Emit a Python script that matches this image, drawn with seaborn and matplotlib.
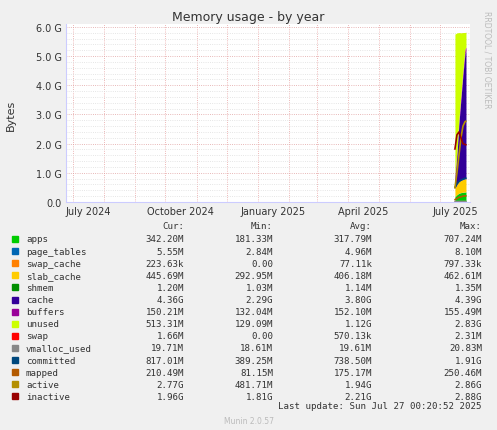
import matplotlib
matplotlib.use("Agg")
import matplotlib.pyplot as plt
import matplotlib.dates as mdates
import seaborn as sns
import pandas as pd
import numpy as np

sns.set_style("white")
plt.rcParams['font.family'] = ['DejaVu Sans']

dates = pd.to_datetime(["2025-07-16", "2025-07-18", "2025-07-20", "2025-07-22", "2025-07-24", "2025-07-26", "2025-07-27"])
G = 1e9
apps = [0.18, 0.25, 0.30, 0.32, 0.33, 0.34, 0.342]
page_tables = [0.003, 0.004, 0.005, 0.005, 0.005, 0.0055, 0.0055]
swap_cache = [0, 0, 0, 0.0001, 0.0002, 0.0002, 0.0002]
slab_cache = [0.29, 0.35, 0.40, 0.42, 0.44, 0.45, 0.446]
shmem = [0.001, 0.001, 0.001, 0.0012, 0.0012, 0.0012, 0.0012]
cache = [0.3, 1.0, 2.0, 2.8, 3.6, 4.3, 4.36]
buffers = [0.13, 0.14, 0.15, 0.15, 0.15, 0.15, 0.15]
unused = [4.85, 4.05, 2.95, 2.1, 1.28, 0.56, 0.513]
swap = [0, 0, 0.0005, 0.001, 0.0015, 0.0016, 0.0017]
vmalloc_used = [0.019, 0.019, 0.0195, 0.0196, 0.0197, 0.0197, 0.0197]
committed = [0.5, 0.62, 0.70, 0.75, 0.78, 0.81, 0.817]
mapped = [0.08, 0.12, 0.16, 0.18, 0.20, 0.21, 0.21]
active = [0.48, 1.0, 1.6, 2.2, 2.6, 2.75, 2.77]
inactive = [1.81, 2.3, 2.4, 2.2, 2.0, 1.97, 1.96]

stack_names = ["apps", "page_tables", "swap_cache", "slab_cache", "shmem", "cache", "buffers", "unused", "swap"]
stack_vals = [apps, page_tables, swap_cache, slab_cache, shmem, cache, buffers, unused, swap]
stack_cols = ["#00CC00", "#0066B3", "#FF8000", "#FFCC00", "#330099", "#330099", "#990099", "#CCFF00", "#FF0000"]
line_names = ["vmalloc_used", "committed", "mapped", "active", "inactive"]
line_vals = [vmalloc_used, committed, mapped, active, inactive]
line_cols = ["#888888", "#00487D", "#B35A00", "#B38F00", "#990000"]
legend_cols = ["#00CC00", "#0066B3", "#FF8000", "#FFCC00", "#008F00", "#330099", "#990099",
               "#CCFF00", "#FF0000", "#888888", "#00487D", "#B35A00", "#B38F00", "#990000"]
rows = [
    ("apps", "342.20M", "181.33M", "317.79M", "707.24M"),
    ("page_tables", "5.55M", "2.84M", "4.96M", "8.10M"),
    ("swap_cache", "223.63k", "0.00", "77.11k", "797.33k"),
    ("slab_cache", "445.69M", "292.95M", "406.18M", "462.61M"),
    ("shmem", "1.20M", "1.03M", "1.14M", "1.35M"),
    ("cache", "4.36G", "2.29G", "3.80G", "4.39G"),
    ("buffers", "150.21M", "132.04M", "152.10M", "155.49M"),
    ("unused", "513.31M", "129.09M", "1.12G", "2.83G"),
    ("swap", "1.66M", "0.00", "570.13k", "2.31M"),
    ("vmalloc_used", "19.71M", "18.61M", "19.61M", "20.83M"),
    ("committed", "817.01M", "389.25M", "738.50M", "1.91G"),
    ("mapped", "210.49M", "81.15M", "175.17M", "250.46M"),
    ("active", "2.77G", "481.71M", "1.94G", "2.86G"),
    ("inactive", "1.96G", "1.81G", "2.21G", "2.88G"),
]

fig = plt.figure(figsize=(4.97, 4.31), dpi=100, facecolor="#F0F0F0")
ax = fig.add_axes([66/497, 1-203/431, 404/497, 178/431])
ax.set_facecolor("white")
ax.stackplot(dates, *[np.array(v)*G for v in stack_vals], colors=stack_cols, linewidth=0)
for n, v, c in zip(line_names, line_vals, line_cols):
    sns.lineplot(x=dates, y=np.array(v)*G, color=c, ax=ax, linewidth=1.2, legend=False)

ax.set_xlim(pd.Timestamp("2024-06-24"), pd.Timestamp("2025-07-31"))
ax.set_ylim(0, 6.1e9)
yt = np.arange(0, 6.01e9, 1e9)
ax.set_yticks(yt)
ax.set_yticklabels(["0.0"] + [f"{v/1e9:.1f} G" for v in yt[1:]], fontsize=7, color="#333333")
ax.set_yticks(np.arange(0, 6.1e9, 0.2e9), minor=True)
ax.xaxis.set_major_locator(mdates.MonthLocator(bymonthday=16, bymonth=[1, 4, 7, 10]))
ax.xaxis.set_major_formatter(mdates.DateFormatter("%B %Y"))
ax.xaxis.set_minor_locator(mdates.MonthLocator())
for lab in ax.get_xticklabels():
    lab.set_fontsize(7); lab.set_color("#333333")
ax.tick_params(length=0, pad=3)
ax.grid(which="minor", axis="y", color="#DDDDDD", linestyle=":", linewidth=0.6)
ax.grid(which="major", axis="y", color="#E0A0A0", linestyle=":", linewidth=0.6)
ax.grid(which="minor", axis="x", color="#E8A0A0", linestyle=":", linewidth=0.6)
for s in ["top", "right"]:
    ax.spines[s].set_visible(False)
ax.spines["left"].set_color("#CCCCFF")
ax.spines["bottom"].set_color("#CCCCFF")
ax.set_xlabel("")
ax.set_ylabel("")
fig.text(11/497, 1-115/431, "Bytes", rotation=90, ha="center", va="center", fontsize=8, color="#333333")
fig.text(0.5, 1-18/431, "Memory usage - by year", ha="center", va="center", fontsize=9, color="#333333")
fig.text(487/497, 1-60/431, "RRDTOOL / TOBI OETIKER", rotation=270, ha="center", va="center", fontsize=5.5, color="#BBBBBB")

mono = "DejaVu Sans Mono"
fs = 6.6
y0 = 227
fig.text(184/497, 1-y0/431, "Cur:", ha="right", va="center", fontsize=fs, family=mono, color="#333333")
fig.text(273/497, 1-y0/431, "Min:", ha="right", va="center", fontsize=fs, family=mono, color="#333333")
fig.text(372/497, 1-y0/431, "Avg:", ha="right", va="center", fontsize=fs, family=mono, color="#333333")
fig.text(482/497, 1-y0/431, "Max:", ha="right", va="center", fontsize=fs, family=mono, color="#333333")
for i, (r, c) in enumerate(zip(rows, legend_cols)):
    y = 1 - (240 + i*12.1)/431
    fig.patches.append(plt.Rectangle((12/497, y-3/431), 6/497, 6/431, transform=fig.transFigure, color=c))
    fig.text(26/497, y, r[0], ha="left", va="center", fontsize=fs, family=mono, color="#333333")
    for x, v in zip([184, 273, 372, 482], r[1:]):
        fig.text(x/497, y, v, ha="right", va="center", fontsize=fs, family=mono, color="#333333")
fig.text(482/497, 1-407/431, "Last update: Sun Jul 27 00:20:52 2025", ha="right", va="center", fontsize=fs, family=mono, color="#333333")
fig.text(0.5, 1-422/431, "Munin 2.0.57", ha="center", va="center", fontsize=5.5, color="#BBBBBB")
fig.savefig("out.png", dpi=100, facecolor=fig.get_facecolor())
